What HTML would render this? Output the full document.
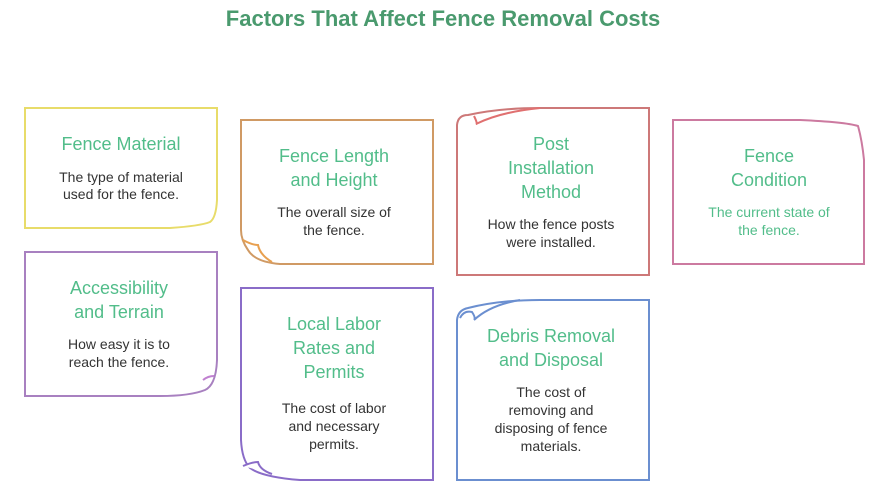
<!DOCTYPE html>
<html><head><meta charset="utf-8"><style>
html,body{margin:0;padding:0;background:#fff;}
svg{display:block}
.t{font-family:"Liberation Sans",sans-serif;font-weight:bold;font-size:22px;fill:#4a9a6e}
.h{font-family:"Liberation Sans",sans-serif;font-size:18px;fill:#52bd8a}
.b{font-family:"Liberation Sans",sans-serif;font-size:14px;fill:#333}
.g{fill:#52bd8a}
path{fill:#fff;stroke-width:2}
</style></head><body>
<svg width="886" height="501" viewBox="0 0 886 501">
<text class="t" x="443" y="26" text-anchor="middle">Factors That Affect Fence Removal Costs</text>

<!-- card1 yellow, bottom-right curl -->
<path stroke="#e8dc6a" d="M25,108 H217 V200 Q216,218 210,222 Q200,226 170,228 H25 Z"/>
<!-- card2 orange, bottom-left curl -->
<path stroke="#d09a64" d="M241,120 H433 V264 H280 Q255,262 248,250 Q241,240 241,230 Z"/>
<path stroke="#e8a050" fill="none" d="M243,240 Q252,245 258,245 Q260,255 272,262"/>
<!-- card3 red, top-left curl -->
<path stroke="#cd7878" d="M457,125 Q458,115 468,115 Q500,108 540,108 H649 V275 H457 Z"/>
<path stroke="#e07070" fill="none" d="M474,116 Q478,124 476,124 Q500,112 540,108"/>
<!-- card4 pink, top-right curl -->
<path stroke="#cc7aa0" d="M673,120 H800 Q845,122 858,126 Q862,140 864,160 V264 H673 Z"/>
<!-- card5 purple, bottom-right curl -->
<path stroke="#a880c0" d="M25,252 H217 V360 Q216,385 205,390 Q190,396 160,396 H25 Z"/>
<path stroke="#c080d0" fill="none" d="M203,380 Q208,376 214,376"/>
<!-- card6 violet, bottom-left curl -->
<path stroke="#8a6cc8" d="M241,288 H433 V480 H300 Q262,477 250,468 Q242,460 241,440 Z"/>
<path stroke="#8a6cc8" fill="none" d="M243,466 Q252,462 258,462 Q260,470 272,474"/>
<!-- card7 blue, top-left curl -->
<path stroke="#6b8fd0" d="M457,320 Q458,310 468,308 Q500,300 540,300 H649 V480 H457 Z"/>
<path stroke="#6b8fd0" fill="none" d="M460,318 Q464,310 472,312 Q476,318 474,320 Q490,305 520,300"/>

<g text-anchor="middle">
<text class="h" x="121" y="150">Fence Material</text>
<text class="b" x="121" y="182">The type of material</text>
<text class="b" x="121" y="199">used for the fence.</text>

<text class="h" x="334" y="162">Fence Length</text>
<text class="h" x="334" y="186">and Height</text>
<text class="b" x="334" y="217">The overall size of</text>
<text class="b" x="334" y="235">the fence.</text>

<text class="h" x="551" y="150">Post</text>
<text class="h" x="551" y="174">Installation</text>
<text class="h" x="551" y="198">Method</text>
<text class="b" x="551" y="229">How the fence posts</text>
<text class="b" x="551" y="247">were installed.</text>

<text class="h" x="769" y="162">Fence</text>
<text class="h" x="769" y="186">Condition</text>
<text class="b g" x="769" y="217">The current state of</text>
<text class="b g" x="769" y="235">the fence.</text>

<text class="h" x="119" y="294">Accessibility</text>
<text class="h" x="119" y="318">and Terrain</text>
<text class="b" x="119" y="349">How easy it is to</text>
<text class="b" x="119" y="367">reach the fence.</text>

<text class="h" x="334" y="330">Local Labor</text>
<text class="h" x="334" y="354">Rates and</text>
<text class="h" x="334" y="378">Permits</text>
<text class="b" x="334" y="413">The cost of labor</text>
<text class="b" x="334" y="431">and necessary</text>
<text class="b" x="334" y="449">permits.</text>

<text class="h" x="551" y="342">Debris Removal</text>
<text class="h" x="551" y="366">and Disposal</text>
<text class="b" x="551" y="397">The cost of</text>
<text class="b" x="551" y="415">removing and</text>
<text class="b" x="551" y="433">disposing of fence</text>
<text class="b" x="551" y="451">materials.</text>
</g>
</svg>
</body></html>
